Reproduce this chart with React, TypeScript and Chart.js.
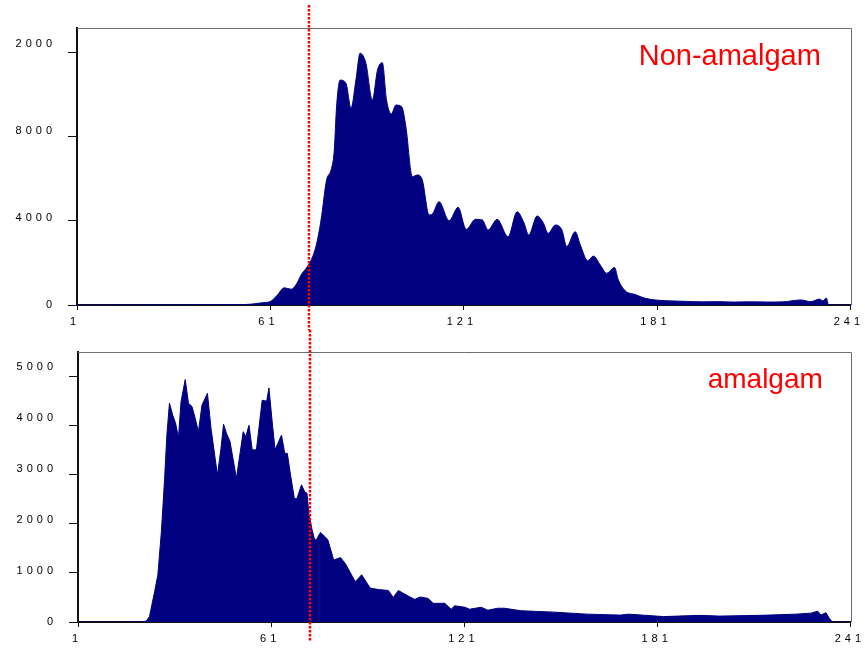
import React, { useEffect, useRef } from 'react';
import { Chart, registerables } from 'chart.js';

Chart.register(...registerables);

const FONT = 'Arial, "Liberation Sans", Helvetica, sans-serif';

// ---- data ----
const markerBin = 73;
const xTickValues = [1, 61, 121, 181, 241];
const xTickLabels = ['1', '61', '121', '181', '241'];

const topTitle = 'Non-amalgam';
const topYTickValues = [0, 4000, 8000, 12000];
const topYTickLabels = ['0', '4000', '8000', '2000'];
const topBins = [1, 40, 52, 55, 58, 61, 63, 65.3, 67.4, 68.9, 70.5, 73.1, 75.1, 76.7, 78.4, 79.8, 80.8, 81.5, 82.6, 84.4, 86.0, 87.5, 88.8, 90.6, 92.6, 94.2, 95.7, 97.0, 98.5, 99.9, 101.7, 103.0, 105.0, 106.6, 108.1, 110.2, 111.2, 113.3, 116.4, 119.2, 121.7, 124.6, 126.7, 128.5, 131.3, 134.7, 137.5, 139.6, 141.1, 143.7, 145.7, 147.1, 149.4, 151.4, 152.9, 155.5, 157.1, 159.4, 161.2, 163.3, 165.3, 167.7, 168.9, 171.0, 174.1, 177.2, 180.3, 184, 188.4, 195, 200, 205, 210, 215, 220, 225.5, 228.6, 231.3, 232.3, 233.4, 234.1, 241];
const topCounts = [0, 10, 20, 40, 100, 170, 450, 820, 750, 950, 1430, 1985, 2780, 4050, 5950, 6430, 7380, 9440, 10710, 10560, 9370, 10710, 11990, 11510, 9760, 11190, 11540, 9760, 9100, 9520, 9440, 8490, 6110, 6190, 5950, 4290, 4330, 4920, 4010, 4650, 3600, 4080, 4050, 3570, 4080, 3250, 4440, 3920, 3330, 4240, 3890, 3410, 3810, 3570, 2780, 3490, 2860, 2110, 2330, 1900, 1510, 1790, 1190, 680, 500, 320, 240, 200, 180, 150, 160, 140, 150, 140, 150, 240, 160, 280, 200, 330, 0, 0];

const bottomTitle = 'amalgam';
const bottomYTickValues = [0, 1000, 2000, 3000, 4000, 5000];
const bottomYTickLabels = ['0', '1000', '2000', '3000', '4000', '5000'];
const bottomBins = [1, 21, 22.2, 23.2, 24.8, 25.8, 26.9, 27.9, 28.6, 29.4, 30.4, 31.3, 32.2, 33.0, 34.3, 35.3, 36.4, 37.4, 38.4, 39.5, 41.2, 42.3, 44.3, 45.4, 46.2, 47.1, 48.2, 50.2, 52.3, 53.1, 54.1, 55.1, 56.4, 58.2, 59.6, 60.3, 61.3, 62.2, 64.2, 65.2, 66.0, 67.0, 68.2, 69.0, 70.4, 71.4, 72.1, 72.7, 73.7, 74.5, 75.0, 76.3, 77.8, 78.6, 80.4, 82.5, 84.0, 87.1, 89.1, 91.7, 94.3, 97.4, 98.9, 100.5, 103.5, 105.6, 107.2, 109.7, 111.3, 114.9, 116.9, 118.0, 121.1, 122.6, 126.2, 128.3, 131.3, 133.4, 138.5, 148.9, 159.1, 169.4, 172, 182.8, 194.1, 200.3, 212.7, 224.0, 228.6, 230.7, 231.7, 233.3, 234.3, 235.3, 241];
const bottomCounts = [0, 0, 20, 110, 620, 960, 1840, 2920, 3800, 4450, 4210, 4040, 3750, 4480, 4930, 4450, 4380, 4140, 3870, 4410, 4650, 3940, 2990, 3530, 4020, 3840, 3670, 2920, 3870, 3770, 4000, 3500, 3500, 4510, 4490, 4760, 4070, 3500, 3800, 3430, 3430, 2990, 2510, 2510, 2790, 2650, 2620, 2210, 1870, 1670, 1670, 1820, 1730, 1670, 1260, 1310, 1190, 820, 960, 690, 660, 640, 500, 640, 530, 460, 510, 480, 380, 380, 260, 330, 300, 260, 300, 240, 280, 280, 230, 200, 160, 140, 160, 110, 135, 120, 135, 160, 180, 220, 140, 190, 75, 0, 0];

// ---- layout specs ----
interface PanelSpec {
  title: string;
  bins: number[];
  counts: number[];
  yTickValues: number[];
  yTickLabels: string[];
  canvasH: number;
  padTop: number;
  padRight: number;
  labelAxisWidth: number;
  xAxisHeight: number;
  yMax: number;
  labelMax: number;
  xLabelOffset: number;
  smooth: boolean;
  titleSize: number;
  titleDx: number;
  titleDy: number;
  lineTop: number;
  lineBottom: number;
}

const topSpec: PanelSpec = {
  title: topTitle,
  bins: topBins,
  counts: topCounts,
  yTickValues: topYTickValues,
  yTickLabels: topYTickLabels,
  canvasH: 330,
  padTop: 28,
  padRight: 13,
  labelAxisWidth: 68,
  xAxisHeight: 25,
  yMax: 13190,
  labelMax: 12726,
  xLabelOffset: -2,
  smooth: true,
  titleSize: 29,
  titleDx: 30,
  titleDy: 37,
  lineTop: 5,
  lineBottom: 330,
};

const bottomSpec: PanelSpec = {
  title: bottomTitle,
  bins: bottomBins,
  counts: bottomCounts,
  yTickValues: bottomYTickValues,
  yTickLabels: bottomYTickLabels,
  canvasH: 318,
  padTop: 22,
  padRight: 10,
  labelAxisWidth: 69,
  xAxisHeight: 26,
  yMax: 5490,
  labelMax: 5294,
  xLabelOffset: -1,
  smooth: false,
  titleSize: 28,
  titleDx: 28,
  titleDy: 36,
  lineTop: 0,
  lineBottom: 312,
};

function makeConfig(spec: PanelSpec): any {
  const tickFont = { family: FONT, size: 11 };
  const decor = {
    id: 'decor',
    beforeDraw(chart: any) {
      chart.ctx.letterSpacing = '4px';
    },
    afterDatasetsDraw(chart: any) {
      const ctx = chart.ctx;
      const a = chart.chartArea;
      ctx.save();
      ctx.strokeStyle = '#6e6e6e';
      ctx.lineWidth = 1;
      ctx.beginPath();
      ctx.moveTo(a.left, Math.round(a.top) + 0.5);
      ctx.lineTo(Math.round(a.right) + 0.5, Math.round(a.top) + 0.5);
      ctx.lineTo(Math.round(a.right) + 0.5, a.bottom);
      ctx.stroke();
      ctx.letterSpacing = '0px';
      ctx.fillStyle = '#ff0000';
      ctx.font = `${spec.titleSize}px ${FONT}`;
      ctx.textAlign = 'right';
      ctx.textBaseline = 'alphabetic';
      ctx.fillText(spec.title, a.right - spec.titleDx, a.top + spec.titleDy);
      ctx.restore();
    },
    afterDraw(chart: any) {
      const ctx = chart.ctx;
      const x = Math.round(chart.scales.x.getPixelForValue(markerBin));
      ctx.save();
      ctx.strokeStyle = '#ff0000';
      ctx.lineWidth = 2.5;
      ctx.setLineDash([2.5, 1.5]);
      ctx.beginPath();
      ctx.moveTo(x, spec.lineTop);
      ctx.lineTo(x, spec.lineBottom);
      ctx.stroke();
      ctx.restore();
    },
  };

  return {
    type: 'line',
    data: {
      datasets: [
        {
          data: spec.bins.map((b, i) => ({ x: b, y: spec.counts[i] })),
          fill: 'origin',
          backgroundColor: '#000080',
          borderColor: '#000080',
          borderWidth: 1,
          pointRadius: 0,
          tension: spec.smooth ? 0.4 : 0,
          cubicInterpolationMode: spec.smooth ? 'monotone' : 'default',
          yAxisID: 'y',
        },
      ],
    },
    options: {
      animation: false,
      responsive: false,
      events: [],
      layout: { padding: { top: spec.padTop, right: spec.padRight, left: 0, bottom: 0 } },
      plugins: { legend: { display: false }, tooltip: { enabled: false } },
      scales: {
        x: {
          type: 'linear',
          min: 1,
          max: 241,
          z: 1,
          afterBuildTicks: (s: any) => {
            s.ticks = xTickValues.map((v) => ({ value: v }));
          },
          afterFit: (s: any) => {
            s.height = spec.xAxisHeight;
          },
          ticks: {
            autoSkip: false,
            maxRotation: 0,
            minRotation: 0,
            padding: 5,
            labelOffset: spec.xLabelOffset,
            color: '#000',
            font: tickFont,
            callback: (_v: any, i: number) => xTickLabels[i],
          },
          grid: { drawOnChartArea: false, drawTicks: true, tickLength: 5, color: '#111', lineWidth: 1 },
          border: { display: true, color: '#111', width: 2 },
        },
        y: {
          type: 'linear',
          position: 'left',
          weight: 0,
          min: 0,
          max: spec.yMax,
          z: 1,
          afterBuildTicks: (s: any) => {
            s.ticks = spec.yTickValues.map((v) => ({ value: v }));
          },
          afterFit: (s: any) => {
            s.width = 9;
          },
          ticks: { display: false },
          grid: { drawOnChartArea: false, drawTicks: true, tickLength: 9, color: '#111', lineWidth: 1 },
          border: { display: true, color: '#111', width: 2 },
        },
        yl: {
          type: 'linear',
          position: 'left',
          weight: 1,
          min: 0,
          max: spec.labelMax,
          afterBuildTicks: (s: any) => {
            s.ticks = spec.yTickValues.map((v) => ({ value: v }));
          },
          afterFit: (s: any) => {
            s.width = spec.labelAxisWidth;
          },
          ticks: {
            padding: 12,
            color: '#000',
            font: tickFont,
            callback: (_v: any, i: number) => spec.yTickLabels[i],
          },
          grid: { display: false, drawTicks: false, tickLength: 0 },
          border: { display: false },
        },
      },
    },
    plugins: [decor],
  };
}

function Panel({ spec, top }: { spec: PanelSpec; top: number }) {
  const ref = useRef<HTMLCanvasElement | null>(null);
  useEffect(() => {
    if (!ref.current) return;
    const chart = new Chart(ref.current, makeConfig(spec));
    return () => chart.destroy();
  }, [spec]);
  return (
    <canvas
      ref={ref}
      width={865}
      height={spec.canvasH}
      style={{ position: 'absolute', left: 0, top, width: 865, height: spec.canvasH, display: 'block' }}
    />
  );
}

export default function App() {
  return (
    <div style={{ position: 'absolute', left: 0, top: 0, width: 865, height: 648, background: '#fff', overflow: 'hidden' }}>
      <Panel spec={topSpec} top={0} />
      <Panel spec={bottomSpec} top={330} />
    </div>
  );
}
